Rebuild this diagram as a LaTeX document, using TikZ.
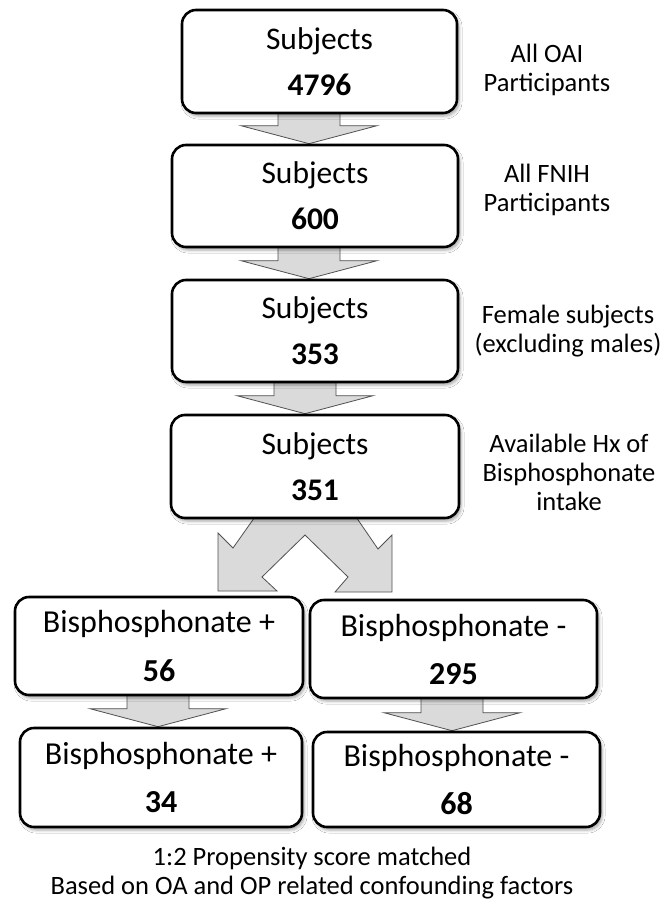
\documentclass[tikz,border=0pt]{standalone}
\usepackage{fontspec}
\setmainfont{Carlito}
\usetikzlibrary{calc,shadows.blur,backgrounds}
\definecolor{arrowfill}{RGB}{218,218,218}
\definecolor{arrowline}{RGB}{80,80,80}
\tikzset{
  box/.style={draw=black, line width=2.6pt, rounded corners=14pt, fill=white,
    align=center, inner sep=0pt,
    blur shadow={shadow xshift=2pt, shadow yshift=-3pt, shadow blur radius=3pt, shadow opacity=35}},
  toptext/.style={font=\fontsize{31.5}{46}\selectfont},
  bottext/.style={font=\fontsize{32}{48}\selectfont},
  note/.style={align=center, inner sep=0pt, font=\fontsize{26.5}{29}\selectfont},
  blockarr/.style={fill=arrowfill, draw=arrowline, line width=0.8pt, line join=miter}
}
\newcommand{\blockarrow}[3]{%
  \path[blockarr] let \p1=(#1.south), \p2=(#2.north), \p3=(#3,0) in
    (\x3-31pt,\y1+2pt) -- (\x3+31pt,\y1+2pt) -- (\x3+31pt,\y2+18pt) --
    (\x3+68pt,\y2+18pt) -- (\x3,\y2) -- (\x3-68pt,\y2+18pt) --
    (\x3-31pt,\y2+18pt) -- cycle;}
\begin{document}
\begin{tikzpicture}[x=1pt,y=-1pt]
\useasboundingbox (0,0) rectangle (667,904);
% boxes
\node[box,toptext,minimum width=275pt,minimum height=103pt] (b1) at (319.5,61.5) {Subjects\\\textbf{4796}};
\node[box,toptext,minimum width=286pt,minimum height=102pt] (b2) at (315,196) {Subjects\\\textbf{600}};
\node[box,toptext,minimum width=286pt,minimum height=102pt] (b3) at (315,331) {Subjects\\\textbf{353}};
\node[box,toptext,minimum width=288pt,minimum height=103pt] (b4) at (315,466.5) {Subjects\\\textbf{351}};
\node[box,bottext,minimum width=288pt,minimum height=98pt] (b5) at (159,646) {Bisphosphonate +\\\textbf{56}};
\node[box,bottext,minimum width=287pt,minimum height=98pt] (b6) at (453.5,649) {Bisphosphonate -\\\textbf{295}};
\node[box,bottext,minimum width=282pt,minimum height=99pt] (b7) at (161,777.5) {Bisphosphonate +\\\textbf{34}};
\node[box,bottext,minimum width=287pt,minimum height=95pt] (b8) at (456.5,779.5) {Bisphosphonate -\\\textbf{68}};
% side notes
\node[note] (n1) at (547,70) {All OAI\\Participants};
\node[note] (n2) at (547,190) {All FNIH\\Participants};
\node[note] (n3) at (568,331) {Female subjects\\(excluding males)};
\node[note] (n4) at (569,472) {Available Hx of\\Bisphosphonate\\intake};
\node[note] (n5) at (312,873) {1:2 Propensity score matched\\Based on OA and OP related confounding factors};
% arrows behind boxes
\begin{scope}[on background layer]
\fill[white] (0,0) rectangle (667,904);
\blockarrow{b1}{b2}{309}
\blockarrow{b2}{b3}{309}
\blockarrow{b3}{b4}{305}
\blockarrow{b5}{b7}{158}
\blockarrow{b6}{b8}{452}
\path[blockarr] (257,514) -- (233,548) -- (218,533) -- (218,591) -- (277,591) --
  (262,577) -- (305,535) -- (348,577) -- (335,592) -- (392,592) -- (392,535) --
  (378,549) -- (354,514) -- cycle;
\end{scope}
\end{tikzpicture}
\end{document}
